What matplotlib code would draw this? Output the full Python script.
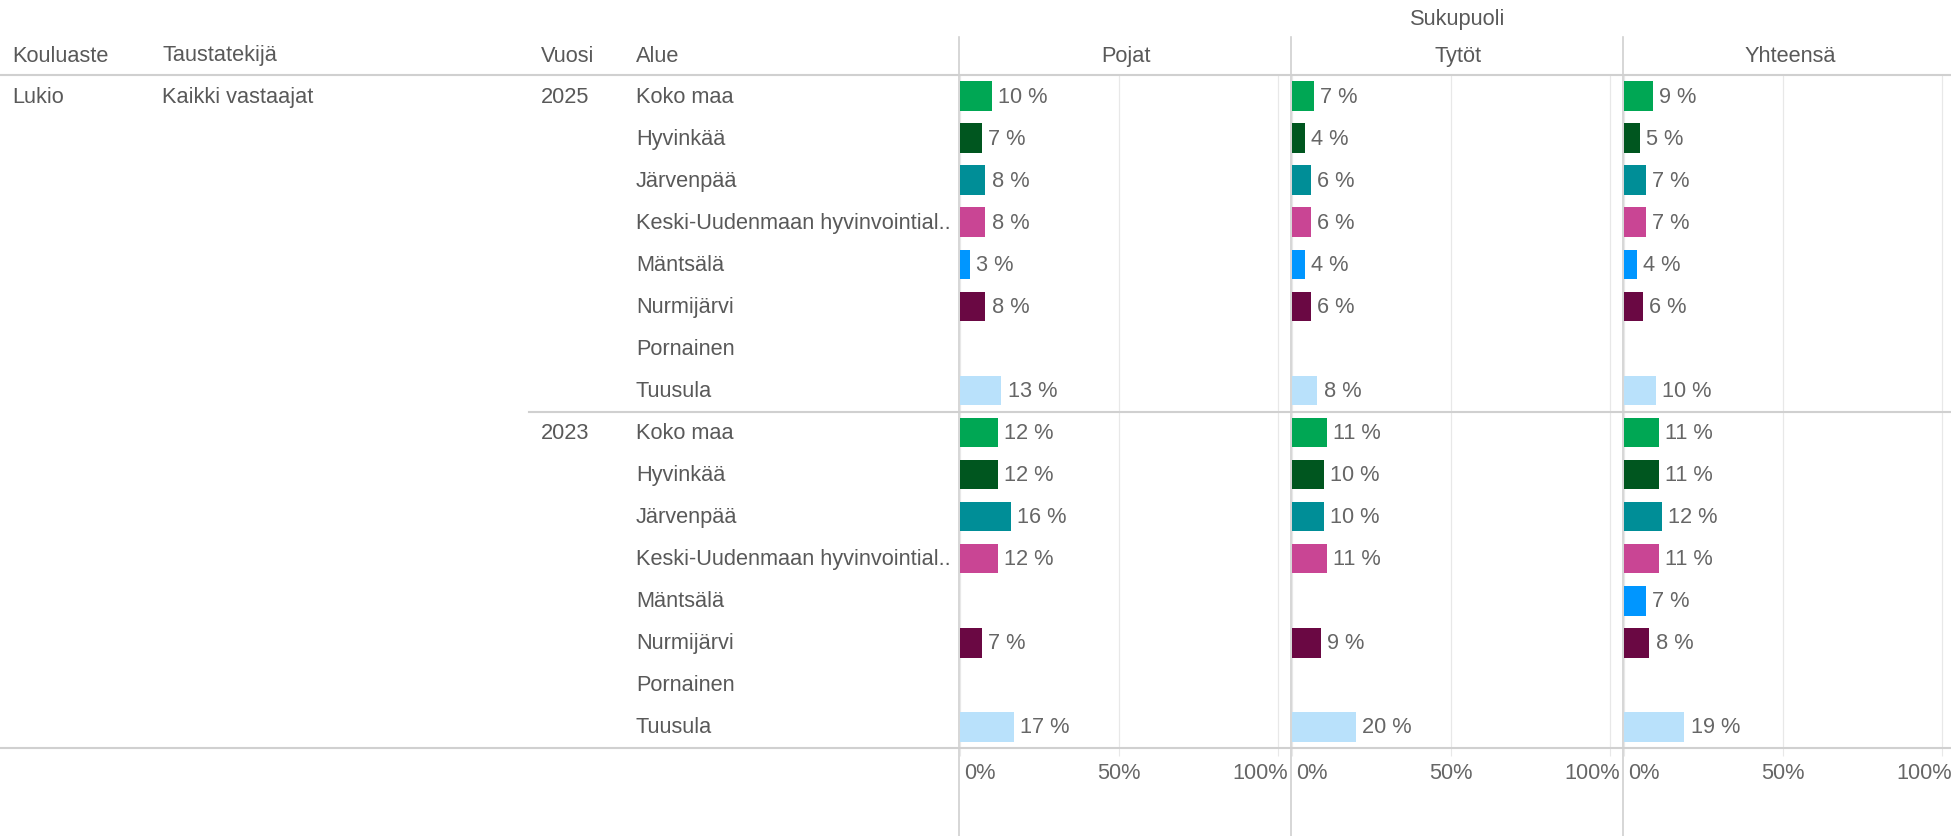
import numpy as np
import matplotlib.pyplot as plt
import matplotlib.transforms as mtransforms
from matplotlib.lines import Line2D

plt.rcParams['font.family'] = ['Liberation Sans', 'DejaVu Sans']

# data
regions = ['Koko maa', 'Hyvinkää', 'Järvenpää', 'Keski-Uudenmaan hyvinvointial..',
           'Mäntsälä', 'Nurmijärvi', 'Pornainen', 'Tuusula']
region_colors = ['#00a754', '#00561f', '#008e97', '#c94594',
                 '#0096ff', '#6a0843', '#f0a30a', '#b9e1fb']
years = ['2025', '2023']
genders = ['Pojat', 'Tytöt', 'Yhteensä']
nan = np.nan
pojat_2025 = [10, 7, 8, 8, 3, 8, nan, 13]
tytot_2025 = [7, 4, 6, 6, 4, 6, nan, 8]
yht_2025 = [9, 5, 7, 7, 4, 6, nan, 10]
pojat_2023 = [12, 12, 16, 12, nan, 7, nan, 17]
tytot_2023 = [11, 10, 10, 11, nan, 9, nan, 20]
yht_2023 = [11, 11, 12, 11, 7, 8, nan, 19]
values = {
    'Pojat': [pojat_2025, pojat_2023],
    'Tytöt': [tytot_2025, tytot_2023],
    'Yhteensä': [yht_2025, yht_2023],
}
tick_vals = [0, 50, 100]
tick_labels = ['0%', '50%', '100%']

W, H = 1951, 837
fig = plt.figure(figsize=(W / 100, H / 100), dpi=100)

txt = '#595959'
line_c = '#d0d0d0'
grid_c = '#e8e8e8'
fs = 15.7


def fx(x):
    return x / W


def fy(y):
    return 1 - y / H


top, bottom = 76, 749
panel_left, panel_w = 960, 332
n_rows = len(regions) * len(years)

axes = []
for i, g in enumerate(genders):
    ax = fig.add_axes([fx(panel_left + i * panel_w), fy(bottom),
                       panel_w / W, (bottom - top) / H])
    ax.set_xlim(0, 104.5)
    ax.set_ylim(n_rows, 0)
    for s in ax.spines.values():
        s.set_visible(False)
    ax.set_yticks([])
    ax.set_xticks(tick_vals)
    ax.set_xticklabels([])
    ax.tick_params(axis='x', length=6, color=grid_c, width=0.8)
    ax.grid(axis='x', color=grid_c, lw=0.9)
    ax.set_axisbelow(True)

    for k, yr in enumerate(years):
        vals = values[g][k]
        ypos = np.arange(len(regions)) + k * len(regions) + 0.5
        ax.barh(ypos, vals, height=0.7, color=region_colors)
        for y, v in zip(ypos, vals):
            if np.isnan(v):
                continue
            ax.annotate(f'{v:.0f} %', (v, y), xytext=(4.5, 0),
                        textcoords='offset points', va='center', ha='left',
                        fontsize=fs, color='#666666')

    # x tick labels kept inside the panel like the original
    trans = mtransforms.blended_transform_factory(ax.transData, ax.transAxes)
    aligns = ['left', 'center', 'right']
    shifts = [4, 0, 10]
    for tv, tl, al, sh in zip(tick_vals, tick_labels, aligns, shifts):
        t = trans + mtransforms.ScaledTranslation(sh / 100, 0, fig.dpi_scale_trans)
        ax.text(tv, -25 / (bottom - top), tl, transform=t, ha=al, va='center',
                fontsize=fs, color='#666666')

    ax.text(0.5, 1 + 20 / (bottom - top), g, transform=ax.transAxes,
            ha='center', va='center', fontsize=fs, color=txt)
    axes.append(ax)

# header texts
fig.text(fx(panel_left + 1.5 * panel_w), fy(20), 'Sukupuoli', ha='center', va='center',
         fontsize=fs, color=txt)
header_x = [12, 162, 541, 636]
header_names = ['Kouluaste', 'Taustatekijä', 'Vuosi', 'Alue']
for x, h in zip(header_x, header_names):
    fig.text(fx(x), fy(56), h, ha='left', va='center', fontsize=fs, color=txt)

# row labels
rt = mtransforms.blended_transform_factory(fig.transFigure, axes[0].transData)
fig.text(fx(12), 0.5, 'Lukio', transform=rt, ha='left', va='center', fontsize=fs, color=txt)
fig.text(fx(162), 0.5, 'Kaikki vastaajat', transform=rt, ha='left', va='center',
         fontsize=fs, color=txt)
for k, yr in enumerate(years):
    base = k * len(regions)
    fig.text(fx(541), base + 0.5, yr, transform=rt, ha='left', va='center',
             fontsize=fs, color=txt)
    for j, r in enumerate(regions):
        fig.text(fx(636), base + j + 0.5, r, transform=rt, ha='left', va='center',
                 fontsize=fs, color=txt)

# table lines
def hline(y, x0=0, x1=W, lw=1.5):
    fig.add_artist(Line2D([fx(x0), fx(x1)], [fy(y), fy(y)], transform=fig.transFigure,
                          color=line_c, lw=lw))


def vline(x, y0=38, y1=H, lw=1.2):
    fig.add_artist(Line2D([fx(x), fx(x)], [fy(y0), fy(y1)], transform=fig.transFigure,
                          color=line_c, lw=lw))


hline(top)
hline(top + (bottom - top) / 2, x0=529)
hline(bottom)
for i in range(len(genders)):
    vline(panel_left - 1 + i * panel_w)

fig.savefig('out.png', dpi=100)
